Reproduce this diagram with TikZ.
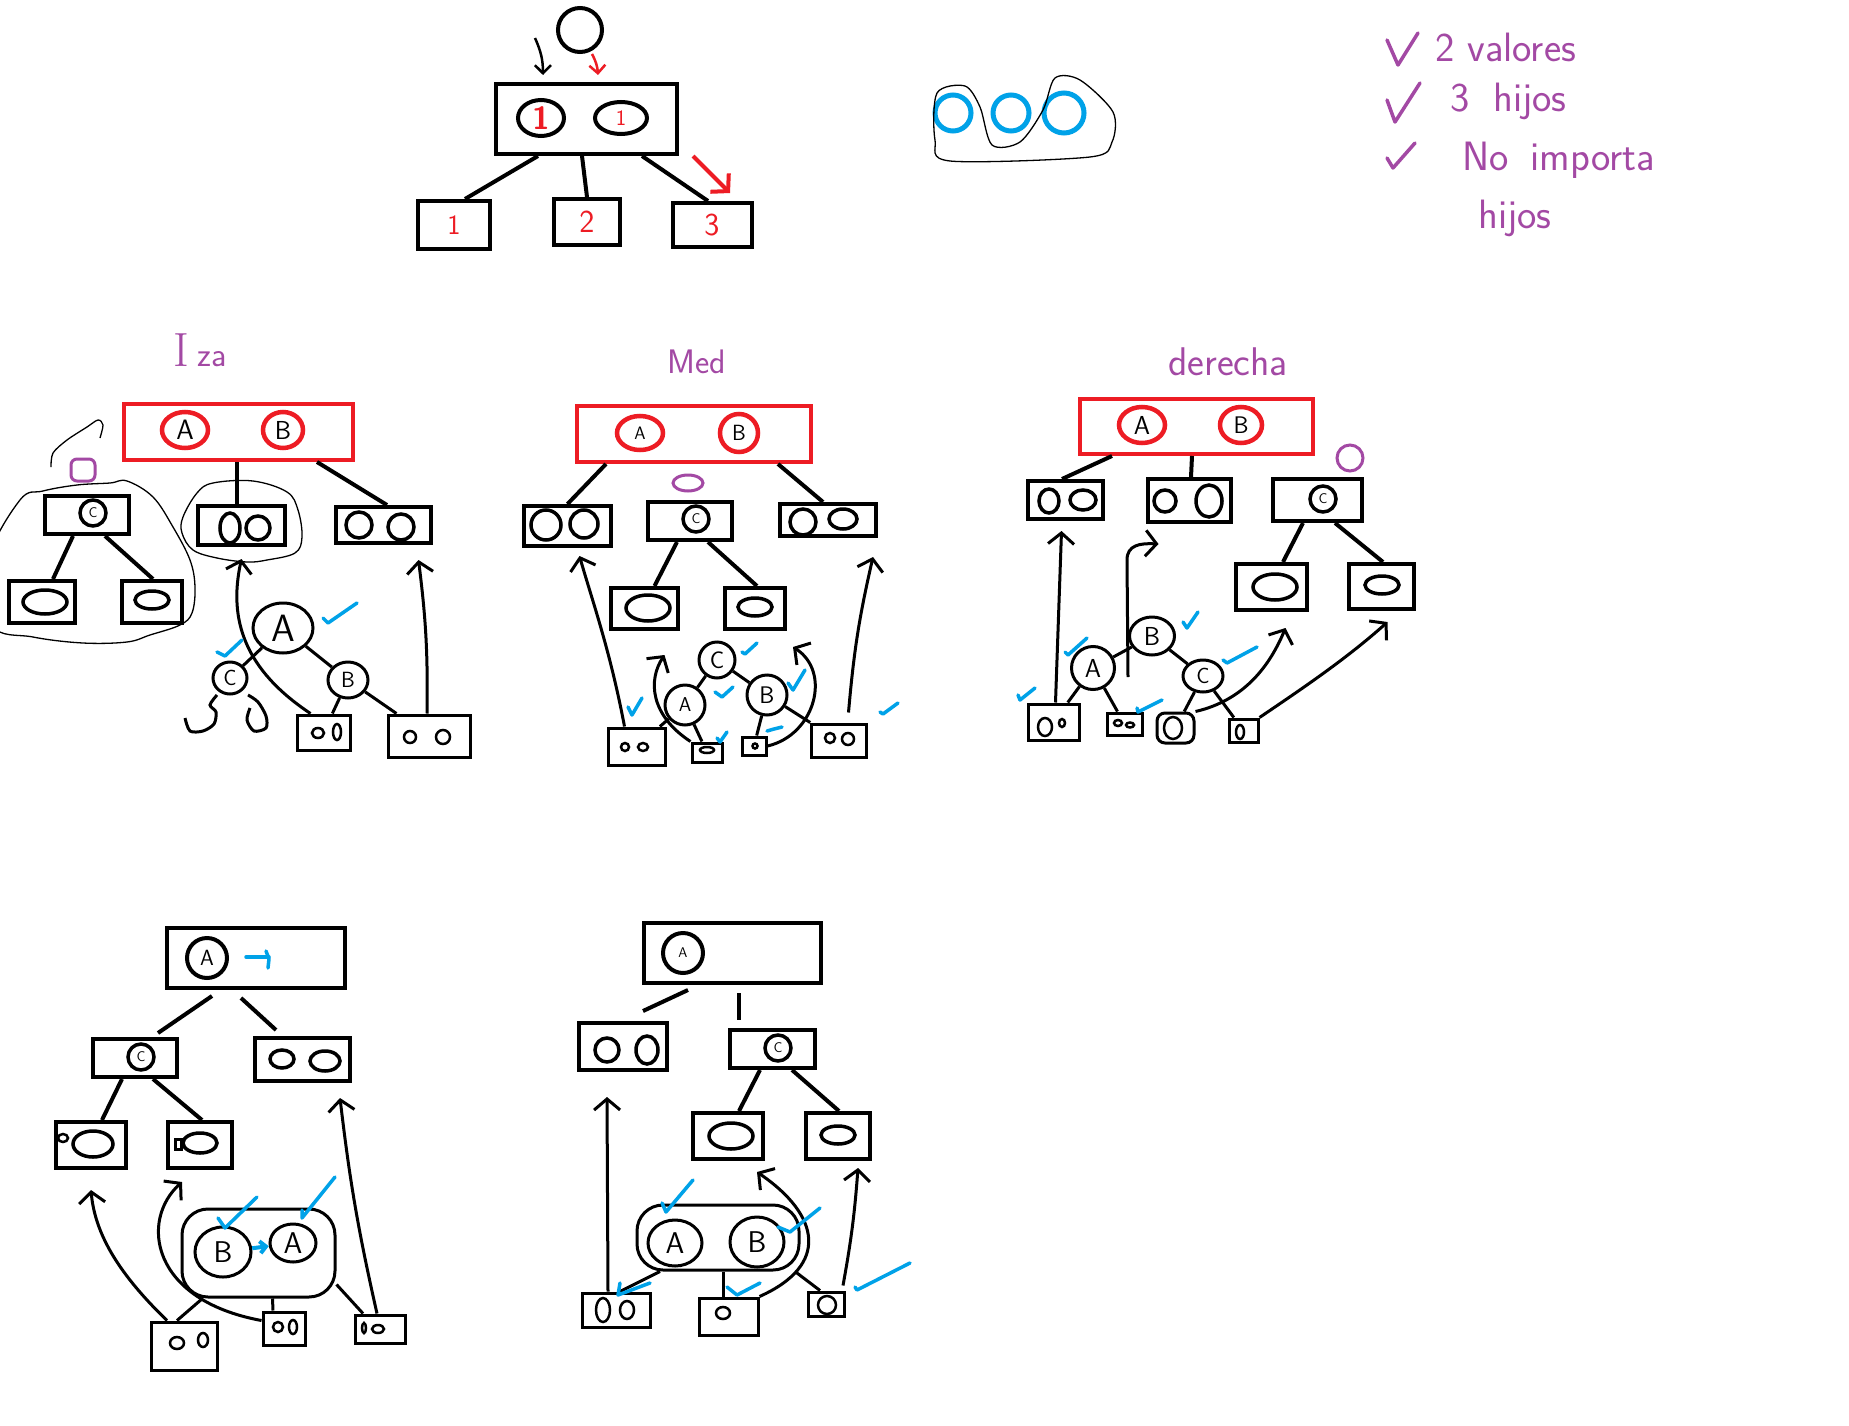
\documentclass[tikz,border=0pt]{standalone}
\usepackage{fontspec}
\renewcommand{\familydefault}{\sfdefault}
\usetikzlibrary{shapes.geometric,arrows.meta}
\definecolor{rojo}{RGB}{237,28,36}
\definecolor{azul}{RGB}{0,162,232}
\definecolor{morado}{RGB}{163,73,164}
\newcommand{\tam}[1]{\fontsize{#1}{#1}\selectfont}

\begin{document}
\begin{tikzpicture}[x=1pt,y=-1pt,inner sep=0pt]
    \tikzstyle{caja}=[rectangle,draw,line width=4pt]
    \tikzstyle{rcaja}=[caja,draw=rojo]
    \tikzstyle{valor}=[ellipse,draw,line width=4pt]
    \tikzstyle{rvalor}=[valor,draw=rojo,line width=4.5pt]
    \tikzstyle{hueco}=[ellipse,draw,line width=3.5pt]
    \tikzstyle{clave}=[ellipse,draw,line width=3pt]
    \tikzstyle{grupo}=[rectangle,rounded corners=26pt,draw,line width=3pt]
    \tikzstyle{mini}=[rectangle,draw,line width=3pt]
    \tikzstyle{punto}=[ellipse,draw,line width=2.5pt]
    \tikzstyle{rama}=[line width=4pt]
    \tikzstyle{enlace}=[line width=3pt]
    \tikzstyle{flecha}=[line width=3pt,-{Straight Barb[length=11pt,width=26pt]}]
    \tikzstyle{trazo}=[line width=1.3pt]
    \tikzstyle{visto}=[azul,line width=3.5pt,line cap=round,line join=round]
    \tikzstyle{nota}=[morado,line width=3.5pt,line cap=round,line join=round]
    \tikzstyle{titulo}=[text=morado]
    \tikzset{medida/.style 2 args={minimum width=#1,minimum height=#2}}

    \fill[white,use as bounding box] (0,0) rectangle (1849,1426);

    % arbol 2-3 de ejemplo
    \node[circle,draw,line width=4pt,minimum size=44] (nuevo) at (580,30) {};
    \node[caja,medida={181}{70}] (raiz) at (586,119) {};
    \node[valor,text=rojo,medida={46}{36}] (v1) at (541,118) {\tam{32}\bfseries 1};
    \node[valor,text=rojo,medida={52}{32}] (v2) at (621,118) {\tam{22}1};
    \node[caja,text=rojo,medida={72}{48}] (h1) at (454,225) {\tam{28}1};
    \node[caja,text=rojo,medida={66}{46}] (h2) at (587,222) {\tam{32}2};
    \node[caja,text=rojo,medida={79}{44}] (h3) at (712,225) {\tam{32}3};
    \draw[rama] ([xshift=-48pt]raiz.south) -- ([xshift=11pt]h1.north);
    \draw[rama] ([xshift=-4pt]raiz.south) -- (h2.north);
    \draw[rama] ([xshift=56pt]raiz.south) -- ([xshift=-4pt]h3.north);
    \coordinate (bajada) at (535,38);
    \draw[line width=2.5pt,-{Straight Barb[length=8pt,width=16pt]}] (bajada) to[bend left=12] ([xshift=-43pt,yshift=7pt]raiz.north);
    \draw[rojo,line width=2.5pt,-{Straight Barb[length=8pt,width=16pt]}] ([xshift=12pt]nuevo.south) to[bend left=12] ([xshift=12pt,yshift=7pt]raiz.north);
    \draw[rojo,line width=4pt,-{Straight Barb[length=12pt,width=26pt]}] ([xshift=107pt]raiz.south) -- ([xshift=18pt,yshift=8pt]h3.north);

    \foreach \x/\d [count=\i] in {953/36,1011/36,1064/40}
        \node[circle,draw=azul,line width=5pt,minimum size=\d] (c\i) at (\x,113) {};
    \draw[trazo] plot[smooth cycle,tension=0.5] coordinates {(937,93) (965,86) (980,107) (992,145) (1020,142) (1043,110) (1055,78) (1080,80) (1113,112) (1112,142) (1090,157) (950,161) (935,140)};

    \foreach \ax/\ay/\bx/\by/\cx/\cy in {1387/40/1398/65/1418/33, 1387/100/1395/122/1420/83, 1387/158/1393/168/1415/143}
        \draw[nota] (\ax,\ay) -- (\bx,\by) -- (\cx,\cy);
    \node[titulo,anchor=base west,font=\tam{41}] (l1) at (1435,62) {2 valores};
    \node[titulo,anchor=base west,font=\tam{41}] (l2) at (1450,112) {3\hspace{24pt}hijos};
    \node[titulo,anchor=base west,font=\tam{41}] (l3) at (1462,170) {No\hspace{22pt}importa};
    \node[titulo,anchor=base west,font=\tam{41}] (l4) at (1478,228) {hijos};

    % Iza
    \node[titulo] (iza) at (200,350) {{\tam{48}\rmfamily I}\hspace{8pt}{\tam{34}za}};
    \node[rcaja,medida={229}{56}] (iraiz) at (238.5,432) {};
    \node[rvalor,medida={46}{36}] (ia) at (185,430) {\tam{28}A};
    \node[rvalor,medida={40}{36}] (ib) at (283,430) {\tam{26}B};
    \node[caja,medida={84}{38}] (ic) at (87,515) {};
    \node[hueco,medida={26}{26}] (icv) at (93,513) {\tam{14}C};
    \node[caja,medida={66}{42}] (ii1) at (42,602) {};
    \node[hueco,medida={44}{24}] (ie1) at (45,602) {};
    \node[caja,medida={60}{42}] (ii2) at (152,602) {};
    \node[hueco,medida={34}{18}] (ie2) at (152,600) {};
    \node[caja,medida={87}{39}] (im) at (241.5,525.5) {};
    \node[hueco,medida={20}{30}] (im1) at (230,528) {};
    \node[hueco,medida={24}{24}] (im2) at (258,528) {};
    \node[caja,medida={95}{36}] (id) at (383.5,525) {};
    \node[hueco,medida={26}{26}] (id1) at (359,525) {};
    \node[hueco,medida={26}{26}] (id2) at (401,527) {};
    \node[rectangle,rounded corners=6pt,draw=morado,line width=3pt,medida={24}{22}] (io) at (83,470) {};
    \draw[rama] ([xshift=-1.5pt]iraiz.south) -- ([xshift=-4.5pt]im.north);
    \draw[rama] ([xshift=78.5pt]iraiz.south) -- ([xshift=3.5pt]id.north);
    \draw[rama] ([xshift=-14pt]ic.south) -- ([xshift=11pt]ii1.north);
    \draw[rama] ([xshift=18pt]ic.south) -- ([xshift=1pt]ii2.north);
    \draw[trazo] plot[smooth cycle,tension=0.6] coordinates {(43,491) (77,485) (110,483) (127,481) (153,497) (173,527) (190,560) (195,587) (192,613) (180,625) (150,635) (127,642) (83,643) (33,637) (-8,625) (-12,560) (20,500)};
    \draw[trazo] plot[smooth cycle,tension=0.6] coordinates {(213,483) (253,481) (287,492) (298,510) (302,537) (295,553) (267,560) (247,562) (217,558) (193,550) (182,533) (183,517) (197,493)};
    \draw[trazo] plot[smooth] coordinates {(51,467) (53,453) (67,440) (87,427) (98,420) (103,425) (100,438)};

    \node[clave,medida={60}{50}] (iA) at (283,628) {\tam{38}A};
    \node[clave,medida={34}{32}] (iC) at (230,678) {\tam{22}C};
    \node[clave,medida={40}{36}] (iB) at (348,680) {\tam{22}B};
    \draw[enlace] (iA) -- (iC);
    \draw[enlace] (iA) -- (iB);
    \draw[enlace] plot[smooth] coordinates {(217,695) (210,705) (216,712) (214,724) (203,731) (190,731) (185,718)};
    \draw[enlace] plot[smooth] coordinates {(248,695) (258,702) (266,716) (266,728) (254,731) (247,720) (250,708)};
    \node[mini,medida={53}{35}] (ip1) at (323.5,732.5) {};
    \node[punto,medida={12}{10}] (ip1a) at (318,733) {};
    \node[punto,medida={8}{16}] (ip1b) at (337,732) {};
    \node[mini,medida={82}{42}] (ip2) at (429,736) {};
    \node[punto,medida={12}{12}] (ip2a) at (410,737) {};
    \node[punto,medida={14}{14}] (ip2b) at (443,737) {};
    \draw[enlace] (iB) -- (ip1);
    \draw[enlace] (iB) -- (ip2);
    \draw[flecha] ([xshift=-13pt]ip1.north) .. controls (245,670) and (228,620) .. ([yshift=-12pt]im.south);
    \draw[flecha] ([xshift=-2pt]ip2.north) to[bend right=4] ([xshift=35pt,yshift=-15pt]id.south);

    % Med
    \node[titulo,font=\tam{34}] (med) at (697,362) {Med};
    \node[rcaja,medida={234}{56}] (mraiz) at (694,434) {};
    \node[rvalor,medida={46}{34}] (ma) at (640,433) {\tam{18}A};
    \node[rvalor,medida={38}{38}] (mb) at (739,433) {\tam{22}B};
    \node[ellipse,draw=morado,line width=3pt,medida={30}{16}] (mp) at (688,483) {};
    \node[caja,medida={87}{40}] (mi) at (567.5,526) {};
    \node[hueco,medida={30}{30}] (mi1) at (546,525) {};
    \node[hueco,medida={28}{28}] (mi2) at (584,524) {};
    \node[caja,medida={84}{38}] (mc) at (690,521) {};
    \node[hueco,medida={26}{26}] (mcv) at (696,519) {\tam{14}C};
    \node[caja,medida={96}{32}] (md) at (828,520) {};
    \node[hueco,medida={26}{26}] (md1) at (803,522) {};
    \node[hueco,medida={28}{20}] (md2) at (843,519) {};
    \node[caja,medida={67}{41}] (mh1) at (644.5,608.5) {};
    \node[hueco,medida={44}{26}] (me1) at (648,608) {};
    \node[caja,medida={60}{41}] (mh2) at (755,608.5) {};
    \node[hueco,medida={34}{18}] (me2) at (755,607) {};
    \draw[rama] ([xshift=-88pt]mraiz.south) -- (mi.north);
    \draw[rama] ([xshift=84pt]mraiz.south) -- ([xshift=-5pt]md.north);
    \draw[rama] ([xshift=-13pt]mc.south) -- ([xshift=10pt]mh1.north);
    \draw[rama] ([xshift=18pt]mc.south) -- ([xshift=2pt]mh2.north);

    \node[clave,medida={36}{36}] (mC) at (717,660) {\tam{24}C};
    \node[clave,medida={40}{40}] (mA) at (685,705) {\tam{20}A};
    \node[clave,medida={40}{40}] (mB) at (767,695) {\tam{24}B};
    \draw[enlace] (mC) -- (mA);
    \draw[enlace] (mC) -- (mB);
    \node[mini,medida={57}{37}] (mq1) at (636.5,746.5) {};
    \node[punto,medida={8}{8}] (mq1a) at (625,747) {};
    \node[punto,medida={10}{8}] (mq1b) at (643,747) {};
    \node[mini,medida={30}{19}] (mq2) at (707,752.5) {};
    \node[punto,medida={14}{6}] (mq2a) at (707,750) {};
    \node[mini,medida={24}{18}] (mq3) at (754,746) {};
    \node[punto,medida={5}{5}] (mq3a) at (755,746) {};
    \node[mini,medida={55}{33}] (mq4) at (838.5,740.5) {};
    \node[punto,medida={10}{10}] (mq4a) at (830,738) {};
    \node[punto,medida={12}{12}] (mq4b) at (848,739) {};
    \draw[enlace] (mA) -- (mq1);
    \draw[enlace] (mA) -- (mq2);
    \draw[enlace] (mB) -- (mq3);
    \draw[enlace] (mB) -- (mq4);
    \draw[flecha] ([xshift=-12pt]mq1.north) .. controls (610,650) and (592,600) .. ([xshift=12pt,yshift=-8pt]mi.south);
    \draw[flecha] (mq2.north west) .. controls (650,715) and (648,680) .. ([xshift=20pt,yshift=-24pt]mh1.south);
    \draw[flecha] (mq3.east) .. controls (815,735) and (832,672) .. ([xshift=38pt,yshift=-16pt]mh2.south);
    \draw[flecha] ([xshift=10pt,yshift=10pt]mq4.north) to[bend left=4] ([xshift=45pt,yshift=-19pt]md.south);

    % derecha
    \node[titulo,font=\tam{40}] (der) at (1228,362) {derecha};
    \node[rcaja,medida={233}{55}] (draiz) at (1196.5,426.5) {};
    \node[rvalor,medida={46}{36}] (da) at (1142,425) {\tam{26}A};
    \node[rvalor,medida={42}{36}] (db) at (1241,425) {\tam{24}B};
    \node[circle,draw=morado,line width=3pt,minimum size=26] (dp) at (1350,458) {};
    \node[caja,medida={75}{38}] (di) at (1065.5,500) {};
    \node[hueco,medida={20}{24}] (di1) at (1049,501) {};
    \node[hueco,medida={26}{20}] (di2) at (1083,500) {};
    \node[caja,medida={83}{43}] (dm) at (1189.5,500.5) {};
    \node[hueco,medida={22}{22}] (dm1) at (1165,501) {};
    \node[hueco,medida={26}{32}] (dm2) at (1209,501) {};
    \node[caja,medida={89}{42}] (dd) at (1317.5,500) {};
    \node[hueco,medida={26}{26}] (ddv) at (1323,499) {\tam{14}C};
    \node[caja,medida={71}{46}] (dh1) at (1271.5,587) {};
    \node[hueco,medida={44}{26}] (de1) at (1275,587) {};
    \node[caja,medida={65}{45}] (dh2) at (1381.5,586.5) {};
    \node[hueco,medida={34}{18}] (de2) at (1382,585) {};
    \draw[rama] ([xshift=-84.5pt]draiz.south) -- ([xshift=-3.5pt]di.north);
    \draw[rama] ([xshift=-4.5pt]draiz.south) -- ([xshift=1.5pt]dm.north);
    \draw[rama] ([xshift=-14.5pt]dd.south) -- ([xshift=11.5pt]dh1.north);
    \draw[rama] ([xshift=17.5pt]dd.south) -- ([xshift=1.5pt]dh2.north);

    \node[clave,medida={43}{43}] (dA) at (1093,668) {\tam{26}A};
    \node[clave,medida={45}{38}] (dB) at (1152,636) {\tam{26}B};
    \node[clave,medida={40}{32}] (dC) at (1203,676) {\tam{22}C};
    \draw[enlace] (dA) -- (dB);
    \draw[enlace] (dB) -- (dC);
    \node[mini,medida={51}{36}] (dq1) at (1053.5,722) {};
    \node[punto,medida={14}{18}] (dq1a) at (1045,727) {};
    \node[punto,medida={6}{8}] (dq1b) at (1062,723) {};
    \node[mini,medida={35}{22}] (dq2) at (1124.5,724) {};
    \node[punto,medida={8}{6}] (dq2a) at (1118,723) {};
    \node[punto,medida={8}{5}] (dq2b) at (1130,725) {};
    \node[mini,rounded corners=8pt,medida={37}{30}] (dq3) at (1175.5,728) {};
    \node[punto,medida={18}{22}] (dq3a) at (1173,728) {};
    \node[mini,medida={29}{23}] (dq4) at (1243.5,730.5) {};
    \node[punto,medida={8}{14}] (dq4a) at (1240,732) {};
    \draw[enlace] (dA) -- (dq1);
    \draw[enlace] (dA) -- (dq2);
    \draw[enlace] (dC) -- (dq3);
    \draw[enlace] (dC) -- (dq4);
    \coordinate (dlib) at (1128,677);
    \draw[flecha] ([xshift=2pt]dq1.north) -- ([xshift=-4pt,yshift=-10pt]di.south);
    \draw[flecha] (dlib) -- (1127,560) .. controls (1127,545) and (1140,543) .. ([xshift=-31pt,yshift=-20pt]dm.south);
    \draw[flecha] (dq3.north east) .. controls (1245,700) and (1270,665) .. ([xshift=14pt,yshift=-16pt]dh1.south);
    \draw[flecha] (dq4.north east) .. controls (1300,690) and (1345,660) .. ([xshift=6pt,yshift=-11pt]dh2.south);

    % borrado, caso 1
    \node[caja,medida={178}{60}] (araiz) at (256,958) {};
    \node[clave,line width=4pt,medida={40}{40}] (aA) at (207,958) {\tam{22}A};
    \node[caja,medida={84}{38}] (ai) at (135,1058) {};
    \node[hueco,medida={26}{26}] (aiv) at (141,1057) {\tam{14}C};
    \node[caja,medida={95}{43}] (ad) at (302.5,1059.5) {};
    \node[hueco,medida={24}{18}] (ad1) at (282,1059) {};
    \node[hueco,medida={30}{20}] (ad2) at (325,1061) {};
    \node[caja,medida={70}{46}] (ah1) at (91,1145) {};
    \node[hueco,medida={40}{26}] (ae1) at (93,1144) {};
    \node[punto,medida={10}{8}] (ae1b) at (63,1138) {};
    \node[caja,medida={64}{46}] (ah2) at (200,1145) {};
    \node[hueco,medida={34}{20}] (ae2) at (200,1143) {};
    \node[mini,medida={6}{10}] (ae2b) at (178,1144) {};
    \draw[rama] ([xshift=-44pt,yshift=-6pt]araiz.south) -- ([xshift=23pt,yshift=4pt]ai.north);
    \draw[rama] ([xshift=-15pt,yshift=-8pt]araiz.south) -- ([xshift=-26.5pt,yshift=6pt]ad.north);
    \draw[rama] ([xshift=-13pt]ai.south) -- ([xshift=11pt]ah1.north);
    \draw[rama] ([xshift=18pt]ai.south) -- ([xshift=2pt]ah2.north);
    \draw[visto] (246,957) -- (269,957);
    \draw[visto] (266,951) -- (269,959) -- (268,968);

    \node[grupo,medida={153}{88}] (agrupa) at (258.5,1253) {};
    \node[clave,medida={56}{50}] (aB) at (223,1252) {\tam{30}B};
    \node[clave,medida={46}{38}] (aA2) at (293,1243) {\tam{30}A};
    \draw[azul,line width=4pt,-{Straight Barb[length=6pt,width=12pt]}] (aB) -- (aA2);
    \node[mini,medida={66}{48}] (aq1) at (184,1346) {};
    \node[punto,medida={14}{12}] (aq1a) at (177,1343) {};
    \node[punto,medida={10}{14}] (aq1b) at (203,1340) {};
    \node[mini,medida={42}{33}] (aq2) at (284,1328.5) {};
    \node[punto,medida={10}{10}] (aq2a) at (278,1327) {};
    \node[punto,medida={8}{14}] (aq2b) at (293,1327) {};
    \node[mini,medida={50}{28}] (aq3) at (380,1329) {};
    \node[punto,medida={4}{10}] (aq3a) at (364,1328) {};
    \node[punto,medida={12}{8}] (aq3b) at (378,1329) {};
    \draw[enlace] ([xshift=-56pt]agrupa.south) -- ([xshift=-7pt]aq1.north);
    \draw[enlace] ([xshift=14pt]agrupa.south) -- ([xshift=-11pt]aq2.north);
    \draw[enlace] ([yshift=14pt]agrupa.south east) -- ([xshift=-17pt]aq3.north);
    \draw[flecha] ([xshift=-17pt]aq1.north) .. controls (120,1275) and (95,1235) .. ([yshift=-20pt]ah1.south);
    \draw[flecha] ([yshift=8pt]aq2.west) .. controls (150,1300) and (140,1220) .. ([xshift=-18pt,yshift=-12pt]ah2.south);
    \draw[flecha] ([xshift=-3pt]aq3.north) to[bend left=3] ([xshift=37.5pt,yshift=-15pt]ad.south);

    % borrado, caso 2
    \node[caja,medida={177}{60}] (braiz) at (732.5,953) {};
    \node[clave,line width=4pt,medida={40}{40}] (bA) at (683,953) {\tam{14}A};
    \node[caja,medida={88}{47}] (bi) at (623,1046.5) {};
    \node[hueco,medida={24}{24}] (bi1) at (607,1050) {};
    \node[hueco,medida={22}{28}] (bi2) at (647,1050) {};
    \node[caja,medida={85}{38}] (bd) at (772.5,1049) {};
    \node[hueco,medida={26}{26}] (bdv) at (778,1048) {\tam{14}C};
    \node[caja,medida={70}{46}] (bh1) at (728,1136) {};
    \node[hueco,medida={44}{26}] (be1) at (731,1136) {};
    \node[caja,medida={64}{46}] (bh2) at (838,1136) {};
    \node[hueco,medida={34}{18}] (be2) at (838,1135) {};
    \draw[rama] ([xshift=-44.5pt,yshift=-5pt]braiz.south) -- ([xshift=20pt,yshift=10pt]bi.north);
    \draw[rama] ([xshift=6.5pt,yshift=-8pt]braiz.south) -- ([xshift=-33.5pt,yshift=8pt]bd.north);
    \draw[rama] ([xshift=-12.5pt]bd.south) -- ([xshift=11pt]bh1.north);
    \draw[rama] ([xshift=19.5pt]bd.south) -- ([xshift=1pt]bh2.north);

    \node[grupo,medida={162}{65}] (bgrupa) at (718,1237.5) {};
    \node[clave,medida={54}{46}] (bA2) at (675,1243) {\tam{30}A};
    \node[clave,medida={54}{50}] (bB) at (757,1242) {\tam{30}B};
    \node[mini,medida={68}{34}] (bq1) at (616,1310) {};
    \node[punto,medida={14}{24}] (bq1a) at (603,1310) {};
    \node[punto,medida={14}{18}] (bq1b) at (627,1310) {};
    \node[mini,medida={59}{37}] (bq2) at (728.5,1316.5) {};
    \node[punto,medida={14}{12}] (bq2a) at (723,1313) {};
    \node[mini,medida={36}{24}] (bq3) at (826,1304) {};
    \node[punto,medida={18}{18}] (bq3a) at (827,1305) {};
    \draw[enlace] ([xshift=-58pt]bgrupa.south) -- ([xshift=4pt]bq1.north);
    \draw[enlace] ([xshift=5pt]bgrupa.south) -- ([xshift=-5.5pt]bq2.north);
    \draw[enlace] ([xshift=77pt]bgrupa.south) -- ([xshift=-6pt]bq3.north);
    \draw[flecha] ([xshift=-8pt]bq1.north) -- ([xshift=-16pt,yshift=-25pt]bi.south);
    \draw[flecha] (bq2.north east) .. controls (830,1265) and (820,1215) .. ([xshift=29pt,yshift=-11pt]bh1.south);
    \draw[flecha] ([xshift=17pt,yshift=5pt]bq3.north) to[bend right=3] ([xshift=20pt,yshift=-7pt]bh2.south);

    % vistos
    \foreach \ax/\ay/\bx/\by/\cx/\cy in {323/618/328/623/357/603, 217/652/225/656/242/640,
        628/707/632/715/642/698, 742/652/745/654/757/643, 715/692/722/697/733/687, 788/683/793/690/805/670,
        717/738/720/742/727/732, 880/712/883/714/898/703, 767/731/774/729/782/727,
        1065/652/1068/655/1087/638, 1183/622/1187/628/1198/612, 1223/660/1227/663/1257/647,
        1018/695/1020/700/1035/688, 1137/708/1138/712/1162/700,
        218/1218/225/1228/257/1197, 302/1210/302/1218/335/1177,
        662/1203/666/1212/693/1180, 778/1227/790/1232/820/1208, 620/1283/618/1295/650/1283,
        727/1287/737/1295/760/1283, 855/1287/857/1290/910/1263}
        \draw[visto] (\ax,\ay) -- (\bx,\by) -- (\cx,\cy);
\end{tikzpicture}
\end{document}
